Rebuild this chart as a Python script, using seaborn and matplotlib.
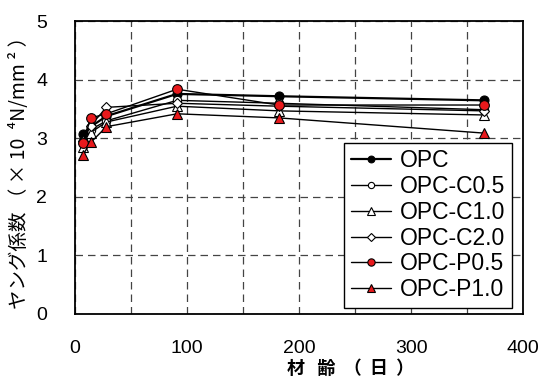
import pandas as pd
import matplotlib
matplotlib.use('Agg')
import matplotlib.pyplot as plt
import seaborn as sns

# --- Data ---
age_days = [7, 14, 28, 91, 182, 365]
opc      = [3.08, 3.20, 3.38, 3.76, 3.72, 3.65]
opc_c05  = [2.95, 3.15, 3.30, 3.65, 3.60, 3.49]
opc_c10  = [2.85, 3.10, 3.28, 3.55, 3.47, 3.40]
opc_c20  = [2.95, 3.22, 3.53, 3.60, 3.55, 3.47]
opc_p05  = [2.92, 3.35, 3.42, 3.84, 3.57, 3.57]
opc_p10  = [2.72, 2.93, 3.20, 3.42, 3.35, 3.09]

series = {
    'OPC': opc,
    'OPC-C0.5': opc_c05,
    'OPC-C1.0': opc_c10,
    'OPC-C2.0': opc_c20,
    'OPC-P0.5': opc_p05,
    'OPC-P1.0': opc_p10,
}
df = pd.DataFrame([(k, x, y) for k, v in series.items() for x, y in zip(age_days, v)],
                  columns=['mix', 'age', 'E'])

# marker, face colour, line width, marker size
styles = {
    'OPC':      ('o', 'black', 1.6, 6.5),
    'OPC-C0.5': ('o', 'white', 1.0, 6.0),
    'OPC-C1.0': ('^', 'white', 1.0, 7.0),
    'OPC-C2.0': ('D', 'white', 1.0, 5.0),
    'OPC-P0.5': ('o', '#e8191c', 1.0, 7.0),
    'OPC-P1.0': ('^', '#e8191c', 1.0, 7.5),
}

# --- Plot ---
sns.set_style("white")
plt.rcParams['font.family'] = ['Liberation Sans', 'Noto Sans CJK JP', 'DejaVu Sans']
plt.rcParams.update({'text.color': 'black', 'axes.labelcolor': 'black',
                     'xtick.color': 'black', 'ytick.color': 'black'})
fig, ax = plt.subplots(figsize=(5.4, 3.81), dpi=100)
fig.subplots_adjust(left=0.139, right=0.969, bottom=0.176, top=0.944)

for name, (mk, fc, lw, ms) in styles.items():
    sub = df[df['mix'] == name]
    sns.lineplot(data=sub, x='age', y='E', ax=ax, color='black', lw=lw,
                 marker=mk, markersize=ms, markerfacecolor=fc,
                 markeredgecolor='black', markeredgewidth=0.8, label=name)

ax.set_xlim(0, 400)
ax.set_ylim(0, 5)
ax.set_xticks([0, 100, 200, 300, 400])
ax.set_yticks([0, 1, 2, 3, 4, 5])
ax.set_xticks([50, 150, 250, 350], minor=True)
ax.grid(True, which='both', color='#444444', ls=(0, (6, 4)), lw=0.9)
ax.tick_params(axis='both', which='major', direction='in', length=6, labelsize=14)
ax.tick_params(axis='x', which='major', pad=19)
ax.tick_params(axis='y', which='major', pad=20)
ax.tick_params(axis='both', which='minor', direction='in', length=0)
for s in ax.spines.values():
    s.set_color('black')
    s.set_linewidth(1.3)

jp = ['Noto Sans CJK JP', 'DejaVu Sans']
ax.set_xlabel('材   齢  （  日  ）', fontsize=13, fontweight='bold', family=jp)
ax.xaxis.set_label_coords(0.615, -0.155)
ax.set_ylabel('ヤング係数 （ × 10  ⁴N/mm ² ）', fontsize=14, family=jp)
ax.yaxis.set_label_coords(-0.1, 0.5)

leg = ax.legend(loc='lower right', bbox_to_anchor=(0.975, 0.02), borderaxespad=0,
                fontsize=16.5, frameon=True, fancybox=False,
                edgecolor='black', handlelength=1.75, handletextpad=0.4,
                labelspacing=0.12, borderpad=0.3, markerscale=0.75)
leg.get_frame().set_linewidth(1.0)
leg.get_frame().set_alpha(1)

plt.savefig('out.png', dpi=100)
